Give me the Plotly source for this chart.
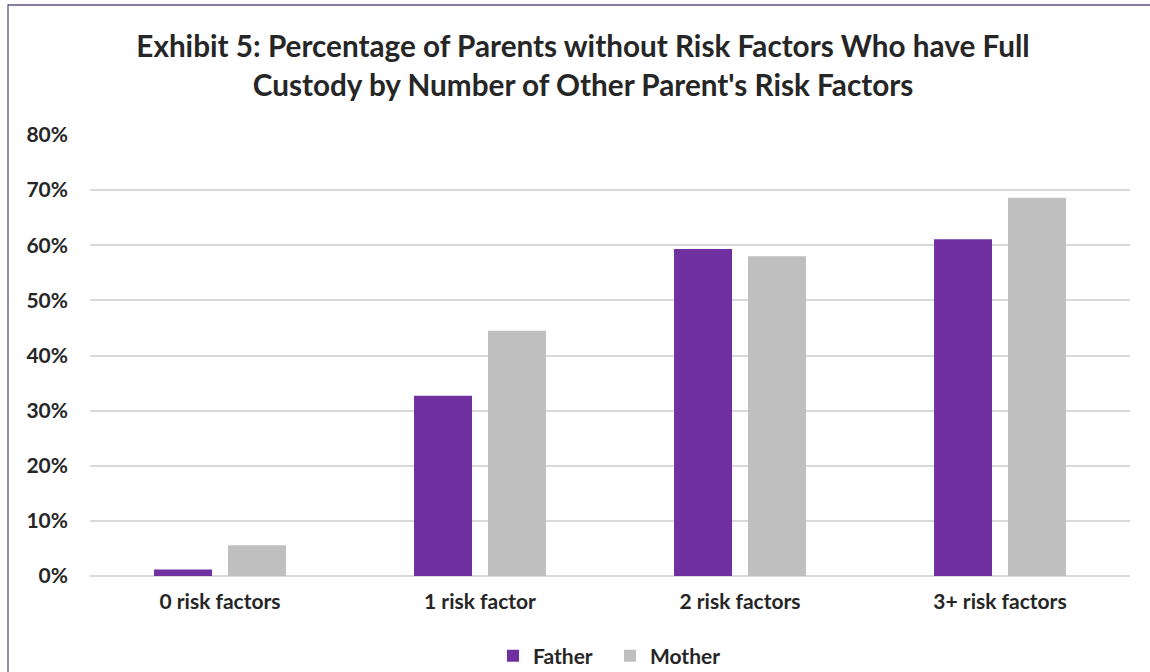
import plotly.graph_objects as go

categories = ["0 risk factors", "1 risk factor", "2 risk factors", "3+ risk factors"]
father = [0.012, 0.327, 0.593, 0.611]
mother = [0.056, 0.445, 0.580, 0.686]
tick_vals = [0, 0.1, 0.2, 0.3, 0.4, 0.5, 0.6, 0.7, 0.8]
tick_text = ["0%", "10%", "20%", "30%", "40%", "50%", "60%", "70%", "80%"]

W, H = 1150, 672
ML, MR, MT, MB = 90, 20, 135, 96
FONT = "Lato"
TXT = "#262626"

fig = go.Figure()
fig.add_trace(go.Bar(name="Father", x=categories, y=father,
                     marker=dict(color="#7030A0", line=dict(width=0))))
fig.add_trace(go.Bar(name="Mother", x=categories, y=mother,
                     marker=dict(color="#BFBFBF", line=dict(width=0))))

pw = W - ML - MR
ph = H - MT - MB
def px2x(p):
    return (p - ML) / pw
def py2y(p):
    return (H - MB - p) / ph

fig.update_layout(
    width=W, height=H,
    margin=dict(l=ML, r=MR, t=MT, b=MB),
    paper_bgcolor="white", plot_bgcolor="white",
    barmode="group", bargap=0.431, bargroupgap=0.216,
    title=dict(
        text="Exhibit 5: Percentage of Parents without Risk Factors Who have Full<br>Custody by Number of Other Parent's Risk Factors",
        x=0.507, xref="container", xanchor="center",
        y=1 - 57 / H, yref="container", yanchor="top",
        font=dict(family=FONT, size=29.7, color=TXT, weight="bold"),
    ),
    font=dict(family=FONT, color=TXT),
    showlegend=True,
    legend=dict(orientation="h", x=0.5, xref="paper", xanchor="center",
                y=1 - 656 / H, yref="container", yanchor="middle",
                font=dict(family=FONT, size=21, color=TXT, weight="bold"),
                itemwidth=30, entrywidth=72, traceorder="normal"),
    xaxis=dict(showgrid=False, showline=False, ticks="",
               tickfont=dict(family=FONT, size=21, color=TXT, weight="bold"),
               ticklabelstandoff=11),
    yaxis=dict(range=[0, 0.8], tickvals=tick_vals, ticktext=tick_text,
               showgrid=True, gridcolor="#D9D9D9", gridwidth=1.5,
               zeroline=True, zerolinecolor="#D9D9D9", zerolinewidth=1.5,
               showline=False, ticks="",
               tickfont=dict(family=FONT, size=21, color=TXT, weight="bold"),
               ticklabelstandoff=21),
    shapes=[dict(type="rect", xref="paper", yref="paper",
                 x0=px2x(8), x1=px2x(1160), y0=py2y(690), y1=py2y(5),
                 line=dict(color="#62507C", width=1.3), fillcolor="rgba(0,0,0,0)",
                 layer="below")],
)

fig.write_html("out.html")
